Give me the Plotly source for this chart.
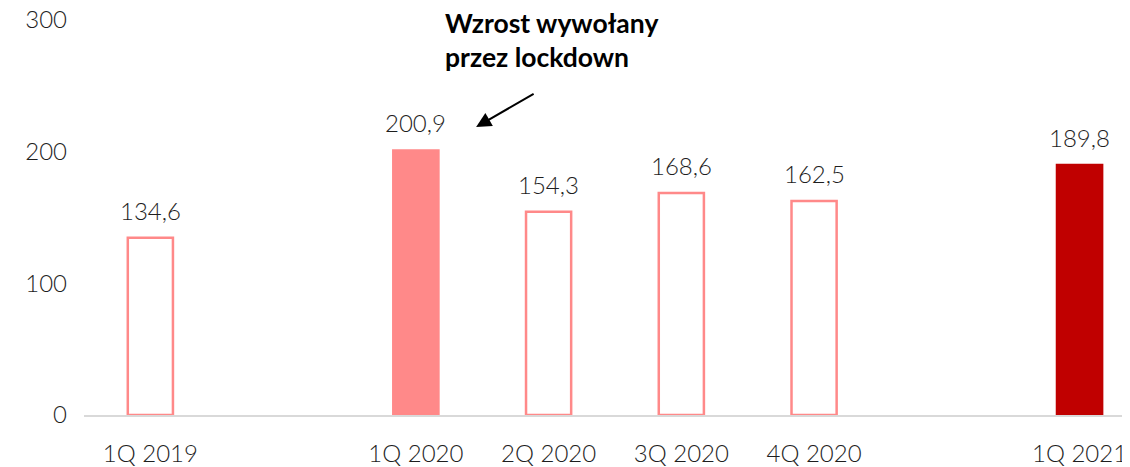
import plotly.graph_objects as go

categories = ["1Q 2019", " ", "1Q 2020", "2Q 2020", "3Q 2020", "4Q 2020", "  ", "1Q 2021"]
values = [134.6, None, 200.9, 154.3, 168.6, 162.5, None, 189.8]
fill_colors = ["white", "white", "#FF8989", "white", "white", "white", "white", "#C00000"]
line_colors = ["#FF8989", "#FF8989", "#FF8989", "#FF8989", "#FF8989", "#FF8989", "#FF8989", "#C00000"]
y_ticks = [0, 100, 200, 300]
annotation_text = "Wzrost wywołany<br>przez lockdown"

light_font = dict(family="Lato", size=24, color="#1e1e1e", weight=300)

# page has an 8px body margin, so the figure is sized/offset to compensate
W, H = 1122, 459
ML, MR, MT, MB = 76, 0, 12, 52
plot_w = W - ML - MR
plot_h = H - MT - MB

fig = go.Figure()
fig.add_trace(go.Bar(
    x=categories,
    y=values,
    marker=dict(color=fill_colors, line=dict(color=line_colors, width=2.5)),
    width=0.34,
    hoverinfo="x+y",
))

for c, v in zip(categories, values):
    if v is None:
        continue
    fig.add_annotation(
        x=c, y=v, xref="x", yref="y",
        text=f"{v:.1f}".replace(".", ","),
        showarrow=False, yanchor="bottom", yshift=11,
        font=light_font,
    )

fig.add_annotation(
    x=2.454, y=218.7, xref="x", yref="y",
    ax=59, ay=-34, axref="pixel", ayref="pixel",
    showarrow=True, arrowhead=2, arrowsize=1.5, arrowwidth=2, arrowcolor="black",
    text="",
)
fig.add_annotation(
    x=(435 - ML) / plot_w, y=1 + (MT + 3) / plot_h,
    xref="paper", yref="paper",
    text=annotation_text, showarrow=False,
    xanchor="left", yanchor="top", align="left",
    font=dict(family="Lato", size=26.5, color="black", weight="bold"),
)

fig.update_layout(
    width=W, height=H,
    margin=dict(l=ML, r=MR, t=MT, b=MB),
    paper_bgcolor="white", plot_bgcolor="white",
    showlegend=False,
    xaxis=dict(
        type="category", range=[-0.5, 7.38], automargin=False,
        showgrid=False, showline=True, linecolor="#D9D9D9", linewidth=1.5,
        ticks="", tickfont=light_font, ticklabelstandoff=16,
        ticklabeloverflow="allow",
    ),
    yaxis=dict(
        range=[0, 300], tickvals=y_ticks, showgrid=False, zeroline=False,
        automargin=False, ticklabeloverflow="allow",
        showline=False, ticks="", tickfont=light_font, ticklabelstandoff=16,
    ),
)

fig.write_html("out.html")
